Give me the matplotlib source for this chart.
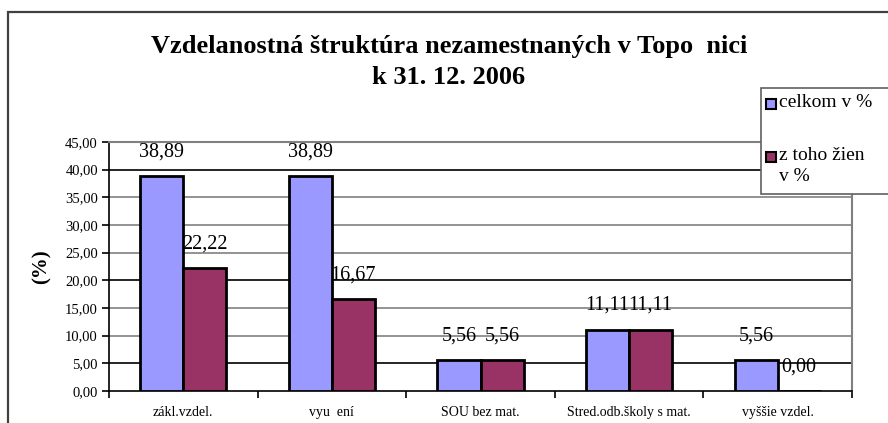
import matplotlib
matplotlib.use("Agg")
import matplotlib.pyplot as plt
import matplotlib.patches as mpatches
import numpy as np

categories = ["zákl.vzdel.", "vyu  ení", "SOU bez mat.", "Stred.odb.školy s mat.", "vyššie vzdel."]
celkom = [38.89, 38.89, 5.56, 11.11, 5.56]
zien = [22.22, 16.67, 5.56, 11.11, 0.00]
series_names = ["celkom v %", "z toho žien\nv %"]
yticks = [0, 5, 10, 15, 20, 25, 30, 35, 40, 45]
title = "Vzdelanostná štruktúra nezamestnaných v Topo  nici\nk 31. 12. 2006"

plt.rcParams['font.family'] = ['Liberation Serif', 'DejaVu Serif']

W, H = 888, 423
fig = plt.figure(figsize=(W / 100, H / 100), dpi=100)

def px(x0, y0, x1, y1):
    return [x0 / W, 1 - y1 / H, (x1 - x0) / W, (y1 - y0) / H]

ax = fig.add_axes(px(109, 142, 852, 391))

blue = "#9999FF"
red = "#993366"
x = np.arange(len(categories))
bw = 0.29
b1 = ax.bar(x - bw / 2, celkom, bw, color=blue, edgecolor="black", linewidth=2, zorder=3)
b2 = ax.bar(x + bw / 2, zien, bw, color=red, edgecolor="black", linewidth=2, zorder=3)

for bars, vals in ((b1, celkom), (b2, zien)):
    for r, v in zip(bars, vals):
        ax.annotate(f"{v:.2f}".replace(".", ","), (r.get_x() + r.get_width() / 2, v),
                    xytext=(0, 24), textcoords="offset pixels", ha="center", va="center",
                    fontsize=14.5, zorder=5)

ax.set_xlim(-0.5, len(categories) - 0.5)
ax.set_ylim(0, 45)
ax.set_yticks(yticks)
ax.set_yticklabels([f"{t:.2f}".replace(".", ",") for t in yticks], fontsize=10.5)

grid_colors = {5: "black", 20: "black", 40: "black"}
for t in yticks[1:-1]:
    ax.axhline(t, color=grid_colors.get(t, "#808080"), linewidth=1.2, zorder=1)

ax.set_xticks(x)
ax.set_xticklabels(categories, fontsize=10)
ax.tick_params(axis="x", length=0, pad=11)
ax.set_xticks(np.arange(len(categories) + 1) - 0.5, minor=True)
ax.tick_params(axis="x", which="minor", length=5, direction="out", width=1.2)
ax.tick_params(axis="y", length=5, direction="out", width=1.2, pad=3)

for s in ("left", "bottom"):
    ax.spines[s].set_color("black")
    ax.spines[s].set_linewidth(1.2)
for s in ("top", "right"):
    ax.spines[s].set_color("#808080")
    ax.spines[s].set_linewidth(1.5)

ax.set_ylabel("(%)", fontsize=15, fontweight="bold", labelpad=10)

fig.text(449 / W, 1 - 62 / H, title, ha="center", va="center", fontsize=19,
         fontweight="bold", linespacing=1.5)

# outer frame
fig.patches.append(mpatches.Rectangle((8 / W, -0.1), 1.1, 1 - 12 / H + 0.1,
                                      transform=fig.transFigure, fill=False,
                                      edgecolor="#404040", linewidth=1.6))

# legend box
fig.patches.append(mpatches.Rectangle((761 / W, 1 - 194 / H), 0.3, (194 - 88) / H,
                                      transform=fig.transFigure, facecolor="white",
                                      edgecolor="#606060", linewidth=1.2, zorder=10))
leg_y = [104, 157]
for yy, name, col in zip(leg_y, series_names, (blue, red)):
    fig.patches.append(mpatches.Rectangle((766 / W, 1 - (yy + 5) / H), 10 / W, 10 / H,
                                          transform=fig.transFigure, facecolor=col,
                                          edgecolor="black", linewidth=1.5, zorder=11))
    fig.text(779 / W, 1 - (yy - 10) / H, name, ha="left", va="top", fontsize=14,
             linespacing=1.3, zorder=12)

fig.savefig("out.png", dpi=100)
